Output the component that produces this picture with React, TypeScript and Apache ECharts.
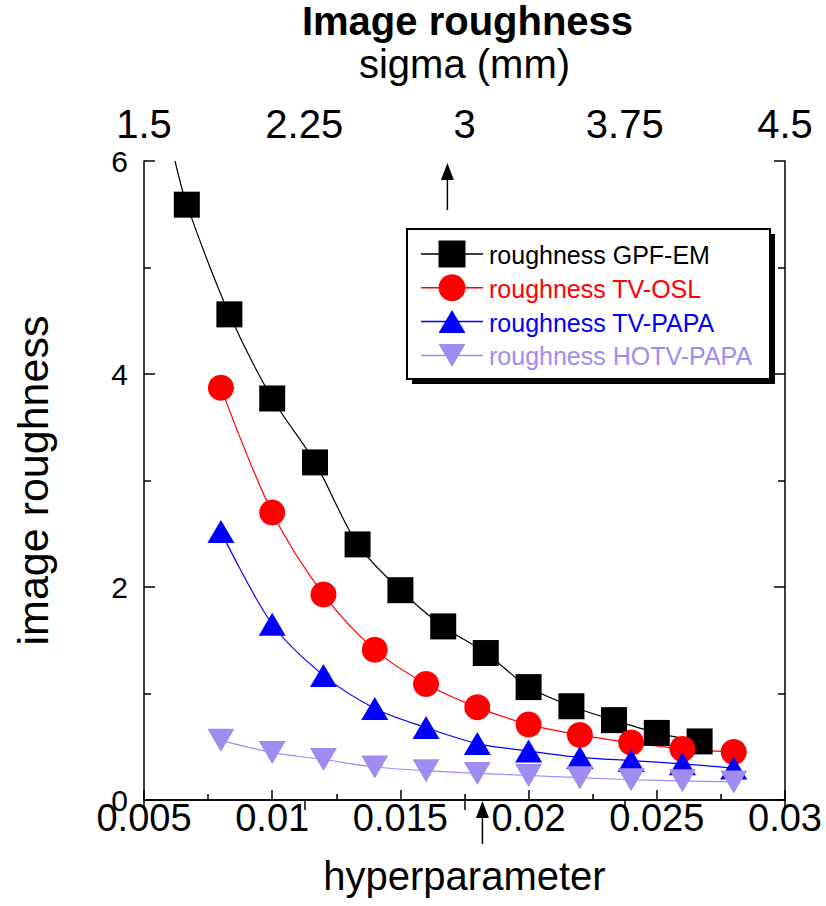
import React, { useEffect, useRef } from "react";
import * as echarts from "echarts";

// ---- data ----
const hyperGPF = [0.00667, 0.00833, 0.01, 0.01167, 0.01333, 0.015, 0.01667, 0.01833, 0.02, 0.02167, 0.02333, 0.025, 0.02667];
const roughGPF = [5.59, 4.56, 3.77, 3.17, 2.4, 1.97, 1.63, 1.38, 1.06, 0.88, 0.75, 0.63, 0.55];
// fitted GPF-EM curve continues up to the frame
const gpfCurveStart = [0.00621, 6.0];

const hyperTV = [0.008, 0.01, 0.012, 0.014, 0.016, 0.018, 0.02, 0.022, 0.024, 0.026, 0.028];
const roughOSL = [3.87, 2.7, 1.93, 1.41, 1.09, 0.87, 0.71, 0.61, 0.54, 0.48, 0.45];
const roughPAPA = [2.52, 1.65, 1.17, 0.86, 0.68, 0.53, 0.46, 0.4, 0.37, 0.34, 0.3];
const roughHOTV = [0.56, 0.445, 0.38, 0.31, 0.275, 0.25, 0.23, 0.21, 0.19, 0.18, 0.17];

const seriesNames = ["roughness GPF-EM", "roughness TV-OSL", "roughness TV-PAPA", "roughness HOTV-PAPA"];
const seriesColors = ["#000000", "#ff0000", "#0000ff", "#a08cf0"];
const seriesShapes = ["square", "circle", "up", "down"];

const hyperTicks = { min: 0.005, max: 0.03, interval: 0.005 };
const sigmaTicks = { min: 1.5, max: 4.5, interval: 0.75 };
const roughTicks = { min: 0, max: 6, interval: 2 };

// arrow markers (axis values)
const arrowSigma = 2.92;
const arrowHyper = 0.0182;

const FONT = "Arial, 'Liberation Sans', Helvetica, sans-serif";
const DOWN_TRI = "path://M0,0 L20,0 L10,17 Z";

function pairs(xs: number[], ys: number[]) {
  return xs.map((x, i) => [x, ys[i]]);
}

function legendSymbol(shape: string, cx: number, cy: number, color: string): any {
  const s = 13.5;
  const h = 11.5;
  const base = { silent: true, z: 20, style: { fill: color } };
  if (shape === "square") return { ...base, type: "rect", shape: { x: cx - s, y: cy - s, width: 2 * s, height: 2 * s } };
  if (shape === "circle") return { ...base, type: "circle", shape: { cx, cy, r: s } };
  if (shape === "up")
    return { ...base, type: "polygon", shape: { points: [[cx, cy - h], [cx - s, cy + h], [cx + s, cy + h]] } };
  return { ...base, type: "polygon", shape: { points: [[cx - s, cy - h], [cx + s, cy - h], [cx, cy + h]] } };
}

export default function App() {
  const ref = useRef<HTMLDivElement>(null);

  useEffect(() => {
    if (!ref.current) return;
    const chart = echarts.init(ref.current, null, { renderer: "svg" });

    const axisLine = { show: true, lineStyle: { color: "#000", width: 1.5 } };
    const tick = { show: true, inside: true, length: 10, lineStyle: { color: "#000", width: 1.5 } };
    const minor = { show: true, splitNumber: 2, length: 6, lineStyle: { color: "#000", width: 1.5 } };

    const option: any = {
      animation: false,
      textStyle: { fontFamily: FONT },
      grid: { left: 144, right: 41, top: 161, bottom: 106, containLabel: false },
      xAxis: [
        {
          type: "value",
          position: "bottom",
          ...hyperTicks,
          name: "hyperparameter",
          nameLocation: "middle",
          nameGap: 56,
          nameTextStyle: { fontSize: 40, color: "#000", fontFamily: FONT },
          axisLine,
          axisTick: tick,
          minorTick: minor,
          splitLine: { show: false },
          axisLabel: { fontSize: 38, lineHeight: 20, color: "#000", margin: 8, fontFamily: FONT },
        },
        {
          type: "value",
          position: "top",
          ...sigmaTicks,
          name: "sigma (mm)",
          nameLocation: "middle",
          nameGap: 77,
          nameTextStyle: { fontSize: 40, color: "#000", fontFamily: FONT },
          axisLine,
          axisTick: tick,
          splitLine: { show: false },
          axisLabel: { fontSize: 40, color: "#000", margin: 17, fontFamily: FONT },
        },
      ],
      yAxis: [
        {
          type: "value",
          position: "left",
          ...roughTicks,
          name: "image roughness",
          nameLocation: "middle",
          nameGap: 90,
          nameTextStyle: { fontSize: 43, color: "#000", fontFamily: FONT },
          axisLine,
          axisTick: { ...tick, length: 11 },
          minorTick: { ...minor, length: 7 },
          splitLine: { show: false },
          axisLabel: { fontSize: 30, lineHeight: 16, padding: [0, 0, 6, 0], color: "#000", margin: 16, fontFamily: FONT },
        },
        {
          type: "value",
          position: "right",
          ...roughTicks,
          axisLine,
          axisTick: { ...tick, length: 11 },
          minorTick: { ...minor, length: 7 },
          splitLine: { show: false },
          axisLabel: { show: false },
        },
      ],
      series: [
        {
          name: seriesNames[0],
          type: "line",
          xAxisIndex: 0,
          yAxisIndex: 0,
          smooth: 0.3,
          symbol: "rect",
          symbolSize: 26,
          data: [{ value: gpfCurveStart, symbol: "none" }, ...pairs(hyperGPF, roughGPF)],
          lineStyle: { color: seriesColors[0], width: 1.2 },
          itemStyle: { color: seriesColors[0] },
          emphasis: { disabled: true },
        },
        {
          name: seriesNames[1],
          type: "line",
          xAxisIndex: 0,
          yAxisIndex: 0,
          smooth: 0.3,
          symbol: "circle",
          symbolSize: 26,
          data: pairs(hyperTV, roughOSL),
          lineStyle: { color: seriesColors[1], width: 1.2 },
          itemStyle: { color: seriesColors[1] },
          emphasis: { disabled: true },
        },
        {
          name: seriesNames[2],
          type: "line",
          xAxisIndex: 0,
          yAxisIndex: 0,
          smooth: 0.3,
          symbol: "triangle",
          symbolSize: [27, 23],
          data: pairs(hyperTV, roughPAPA),
          lineStyle: { color: seriesColors[2], width: 1.2 },
          itemStyle: { color: seriesColors[2] },
          emphasis: { disabled: true },
        },
        {
          name: seriesNames[3],
          type: "line",
          xAxisIndex: 0,
          yAxisIndex: 0,
          smooth: 0.3,
          symbol: DOWN_TRI,
          symbolSize: [27, 23],
          data: pairs(hyperTV, roughHOTV),
          lineStyle: { color: seriesColors[3], width: 1.2 },
          itemStyle: { color: seriesColors[3] },
          emphasis: { disabled: true },
        },
      ],
    };

    chart.setOption(option);

    const xTop = chart.convertToPixel({ xAxisIndex: 1 }, arrowSigma) as number;
    const xBot = chart.convertToPixel({ xAxisIndex: 0 }, arrowHyper) as number;
    const yTopPx = chart.convertToPixel({ yAxisIndex: 0 }, roughTicks.max) as number;
    const yBotPx = chart.convertToPixel({ yAxisIndex: 0 }, roughTicks.min) as number;
    const xLeft = chart.convertToPixel({ xAxisIndex: 0 }, hyperTicks.min) as number;
    const xRight = chart.convertToPixel({ xAxisIndex: 0 }, hyperTicks.max) as number;

    const arrow = (x: number, tip: number, tail: number) => [
      { type: "line", shape: { x1: x, y1: tip + 8, x2: x, y2: tail }, style: { stroke: "#000", lineWidth: 1.5 }, silent: true },
      {
        type: "polygon",
        shape: { points: [[x, tip], [x - 6.5, tip + 17], [x + 6.5, tip + 17]] },
        style: { fill: "#000" },
        silent: true,
      },
    ];

    // legend box (drawn, with Origin-style drop shadow)
    const LX = 407, LY = 229, LW = 363, LH = 150, ROW0 = 254, ROWGAP = 33.8;
    const legendEls: any[] = [
      { type: "rect", silent: true, z: 20, shape: { x: LX + 5, y: LY + 5, width: LW, height: LH }, style: { fill: "#000" } },
      { type: "rect", silent: true, z: 20, shape: { x: LX, y: LY, width: LW, height: LH }, style: { fill: "#fff", stroke: "#000", lineWidth: 2 } },
    ];
    seriesNames.forEach((name, i) => {
      const cy = ROW0 + i * ROWGAP;
      const color = seriesColors[i];
      legendEls.push({
        type: "line",
        silent: true,
        z: 20,
        shape: { x1: LX + 14, y1: cy, x2: LX + 76, y2: cy },
        style: { stroke: color, lineWidth: 1.5 },
      });
      legendEls.push(legendSymbol(seriesShapes[i], LX + 45, cy, color));
      legendEls.push({
        type: "text",
        silent: true,
        z: 20,
        x: LX + 82,
        y: cy + 1,
        style: { text: name, fontSize: 25, fontFamily: FONT, fill: color, textVerticalAlign: "middle", textAlign: "left" },
      });
    });

    chart.setOption({
      graphic: [
        {
          type: "text",
          x: (xLeft + xRight) / 2 + 3,
          y: 1,
          silent: true,
          style: {
            text: "Image roughness",
            fontSize: 40,
            fontWeight: "bold",
            fontFamily: FONT,
            fill: "#000",
            textAlign: "center",
            textVerticalAlign: "top",
          },
        },
        ...arrow(xTop, yTopPx + 2, yTopPx + 49),
        ...arrow(xBot, yBotPx + 1, yBotPx + 44),
        ...legendEls,
      ],
    });

    return () => chart.dispose();
  }, []);

  return (
    <div
      ref={ref}
      style={{ position: "fixed", left: 0, top: 0, width: 826, height: 906, background: "#fff" }}
    />
  );
}
